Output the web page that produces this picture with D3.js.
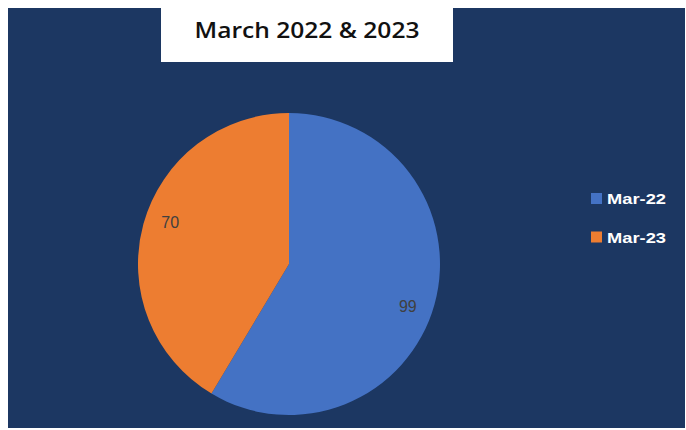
<!DOCTYPE html>
<html>
<head>
<meta charset="utf-8">
<script src="https://cdn.jsdelivr.net/npm/d3@7"></script>
<style>
  body { margin: 0; background: #ffffff; }
  svg { display: block; }
</style>
</head>
<body>
<div id="chart"></div>
<script>
// chart data
var categories = ["Mar-22", "Mar-23"];
var values = [99, 70];
var colors = ["#4472C4", "#ED7D31"];
var title = "March 2022 & 2023";

var svgWidth = 686;
var svgHeight = 430;

var svg = d3.select('#chart').append('svg')
	.attr('width', svgWidth).attr('height', svgHeight);

// navy plot background
svg.append('rect')
	.attr('x', 8).attr('y', 8)
	.attr('width', 677).attr('height', 420)
	.style('fill', '#1C3762');

// white title box
svg.append('rect')
	.attr('x', 161).attr('y', 0)
	.attr('width', 292).attr('height', 62)
	.style('fill', '#ffffff');

svg.append('text')
	.attr('x', 307).attr('y', 38)
	.attr('text-anchor', 'middle')
	.style('font-family', '"Open Sans", sans-serif')
	.style('font-weight', 600)
	.style('font-size', '21px')
	.style('fill', '#111111')
	.attr('textLength', 225).attr('lengthAdjust', 'spacingAndGlyphs')
	.text(title);

var cx = 289, cy = 264, radius = 151;

var data = categories.map(function(c, i) { return {label: c, value: values[i]}; });

var color = d3.scaleOrdinal().domain(categories).range(colors);

var pie = d3.pie().sort(null).value(function(d) { return d.value; });
var arc = d3.arc().innerRadius(0).outerRadius(radius);
var labelArc = d3.arc().innerRadius(126).outerRadius(126);
var labelShift = 0.07; // excel nudges labels a bit clockwise

var g = svg.append('g')
	.attr('transform', 'translate(' + cx + ',' + cy + ')');

g.selectAll('.slice').data(pie(data))
	.enter().append('path')
	.attr('class', 'slice')
	.attr('d', arc)
	.style('fill', function(d) { return color(d.data.label); });

g.selectAll('.label').data(pie(data))
	.enter().append('text')
	.attr('class', 'label')
	.attr('transform', function(d) {
		var p = labelArc.centroid({startAngle: d.startAngle + labelShift, endAngle: d.endAngle + labelShift});
		return 'translate(' + p + ')';
	})
	.attr('text-anchor', 'middle')
	.attr('dy', '0.35em')
	.style('font-family', '"Liberation Sans", Arial, sans-serif')
	.style('font-size', '16px')
	.style('fill', '#404040')
	.text(function(d) { return d.data.value; });

// legend
var legend = svg.selectAll('.legend').data(categories)
	.enter().append('g')
	.attr('class', 'legend')
	.attr('transform', function(d, i) { return 'translate(591,' + (193 + i * 38.5) + ')'; });

legend.append('rect')
	.attr('width', 11).attr('height', 11)
	.style('fill', function(d) { return color(d); });

legend.append('text')
	.attr('x', 16).attr('y', 11)
	.style('font-family', '"Liberation Sans", Arial, sans-serif')
	.style('font-weight', 'bold')
	.style('font-size', '15px')
	.style('fill', '#ffffff')
	.attr('textLength', 59).attr('lengthAdjust', 'spacingAndGlyphs')
	.text(function(d) { return d; });
</script>
</body>
</html>
